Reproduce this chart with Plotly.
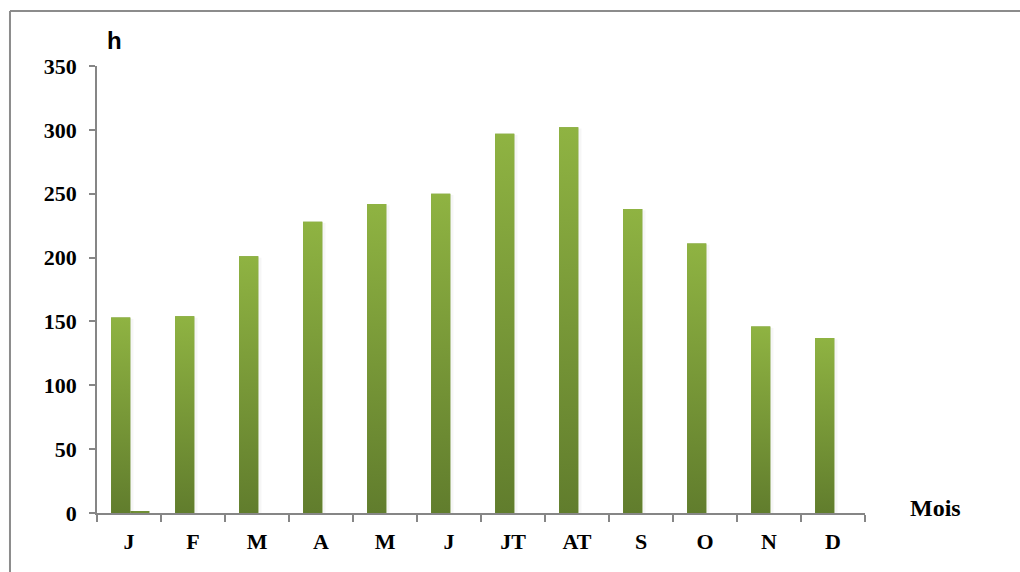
import plotly.graph_objects as go

# Monthly values (hours)
months = ["J", "F", "M", "A", "M", "J", "JT", "AT", "S", "O", "N", "D"]
hours = [153, 154, 201, 228, 242, 250, 297, 302, 238, 211, 146, 137]
second = [1, None, None, None, None, None, None, None, None, None, None, None]
y_ticks = [0, 50, 100, 150, 200, 250, 300, 350]

TOP_GREEN = "#8fb342"
BOTTOM_GREEN = "#617d2d"
BAR_W = 0.30
BAR_OFF = -0.28
idx = list(range(len(months)))

fig = go.Figure()

# faint shadow to the right of each main bar
for i, v in zip(idx, hours):
    x0, x1 = i + BAR_OFF, i + BAR_OFF + BAR_W
    fig.add_trace(go.Scatter(
        x=[x1, x1, x1 + 0.05, x1 + 0.05, x1],
        y=[0, v - 1, v - 1, 0, 0],
        mode="none", fill="toself", fillcolor="rgba(0,0,0,0.035)",
        hoverinfo="skip", showlegend=False))

# bars (data layer)
fig.add_trace(go.Bar(x=idx, y=hours, width=BAR_W, offset=BAR_OFF,
                     marker=dict(color="#789a38", line=dict(width=0)),
                     showlegend=False))
fig.add_trace(go.Bar(x=idx, y=second, width=BAR_W, offset=BAR_OFF + BAR_W,
                     marker=dict(color="#6f8f34", line=dict(width=0)),
                     showlegend=False))

# vertical gradient on each main bar
for i, v in zip(idx, hours):
    x0, x1 = i + BAR_OFF, i + BAR_OFF + BAR_W
    fig.add_trace(go.Scatter(
        x=[x0, x0, x1, x1, x0], y=[0, v, v, 0, 0],
        mode="none", fill="toself",
        fillgradient=dict(type="vertical",
                          colorscale=[[0, BOTTOM_GREEN], [1, TOP_GREEN]]),
        hoverinfo="skip", showlegend=False))

axis_grey = "#868686"
tick_font = dict(family="Liberation Serif", size=22, color="black", weight="bold")

fig.update_layout(
    width=1020, height=572,
    margin=dict(l=97, r=155, t=66, b=59),
    plot_bgcolor="white", paper_bgcolor="white",
    barmode="overlay",
    xaxis=dict(
        range=[-0.5, 11.5], tickmode="array", tickvals=idx, ticktext=months,
        ticks="", showgrid=False, zeroline=False,
        showline=True, linecolor=axis_grey, linewidth=1.5,
        tickfont=tick_font, ticklabelstandoff=8,
        minor=dict(tickmode="array", tickvals=[i - 0.5 for i in range(13)],
                   ticks="outside", ticklen=7, tickwidth=1.5,
                   tickcolor=axis_grey, showgrid=False),
        fixedrange=True,
    ),
    yaxis=dict(
        range=[0, 350], tickmode="array", tickvals=y_ticks,
        ticks="outside", ticklen=6, tickwidth=1.5, tickcolor=axis_grey,
        showgrid=False, zeroline=False,
        showline=True, linecolor=axis_grey, linewidth=1.5,
        tickfont=tick_font, ticklabelstandoff=8,
        fixedrange=True,
    ),
    shapes=[
        # outer frame: top and left edges
        dict(type="line", xref="paper", yref="paper",
             x0=-0.1133, x1=1.25, y0=1.123, y1=1.123,
             line=dict(color="#8c8c8c", width=2)),
        dict(type="line", xref="paper", yref="paper",
             x0=-0.1133, x1=-0.1133, y0=-0.2, y1=1.123,
             line=dict(color="#8c8c8c", width=2)),
    ],
    annotations=[
        dict(text="h", xref="paper", yref="paper", x=(114 - 97) / 768,
             y=(513 - 40) / 447, xanchor="center", yanchor="middle",
             showarrow=False,
             font=dict(family="Liberation Sans", size=24, color="black",
                       weight="bold")),
        dict(text="Mois", xref="paper", yref="paper", x=(935 - 97) / 768,
             y=(513 - 508) / 447, xanchor="center", yanchor="middle",
             showarrow=False,
             font=dict(family="Liberation Serif", size=24, color="black",
                       weight="bold")),
    ],
)

fig.write_html("out.html")
